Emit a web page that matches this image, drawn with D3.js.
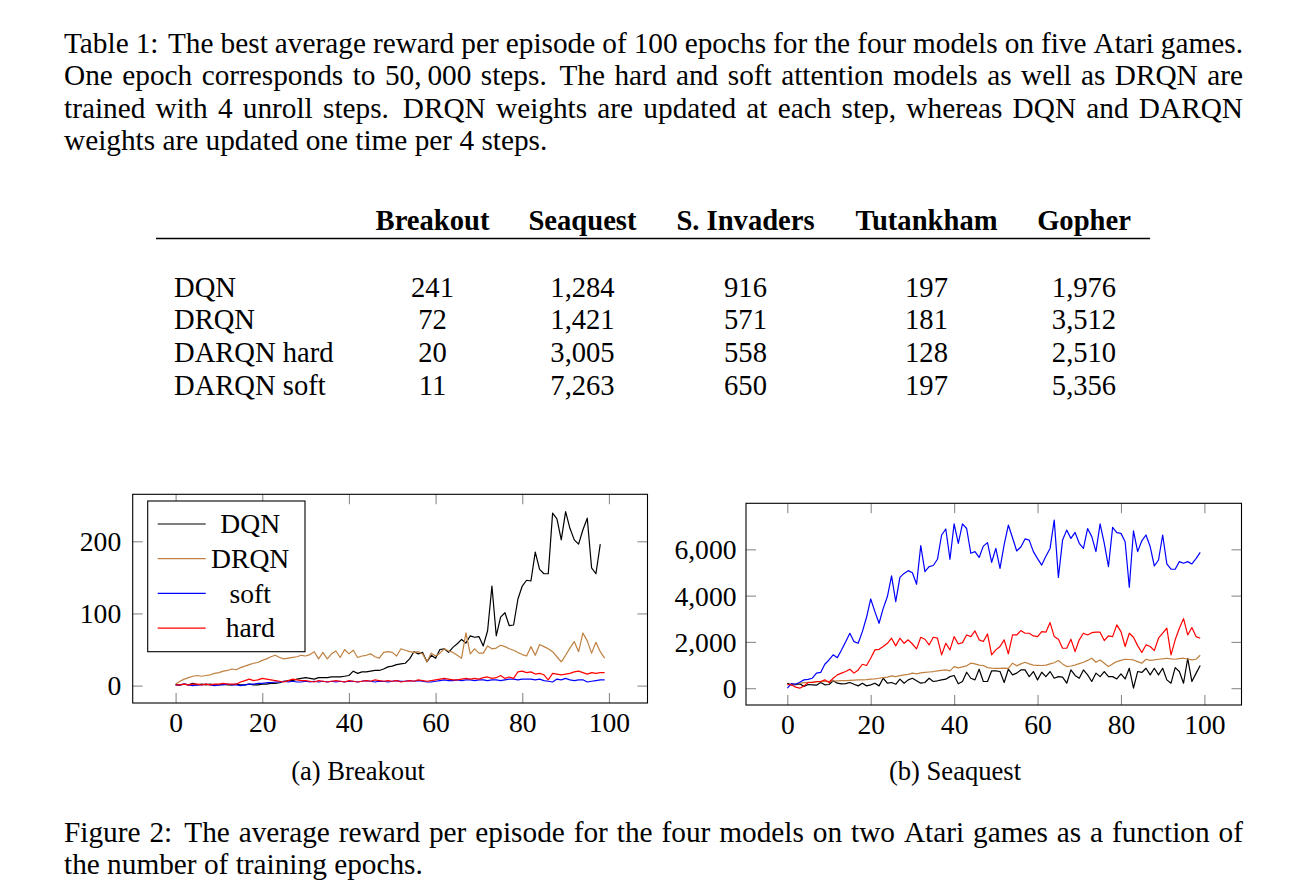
<!DOCTYPE html>
<html><head><meta charset="utf-8">
<script src="https://cdn.jsdelivr.net/npm/d3@7"></script>
<style>
body{margin:0;background:#fff}
svg text{font-family:"Liberation Serif","Times New Roman",Times,serif;fill:#000}
</style></head>
<body><svg id="fig" width="1310" height="892"></svg>
<script>
// ---------- text ----------
const tableCaption = [
  "Table 1: The best average reward per episode of 100 epochs for the four models on five Atari games.",
  "One epoch corresponds to 50,\u2009000 steps. The hard and soft attention models as well as DRQN are",
  "trained with 4 unroll steps. DRQN weights are updated at each step, whereas DQN and DARQN",
  "weights are updated one time per 4 steps."
];
const figureCaption = [
  "Figure 2: The average reward per episode for the four models on two Atari games as a function of",
  "the number of training epochs."
];
const subCaptions = ["(a) Breakout", "(b) Seaquest"];

// ---------- table data ----------
const tableGames = ["Breakout", "Seaquest", "S. Invaders", "Tutankham", "Gopher"];
const tableModels = ["DQN", "DRQN", "DARQN hard", "DARQN soft"];
const bestDQN = [241, 1284, 916, 197, 1976];
const bestDRQN = [72, 1421, 571, 181, 3512];
const bestHard = [20, 3005, 558, 128, 2510];
const bestSoft = [11, 7263, 650, 197, 5356];

// ---------- chart data ----------
const seriesNames = ["DQN", "DRQN", "soft", "hard"];
const seriesColors = ["#000000", "#bf8040", "#0000ff", "#ff0000"];
const xTicks = [0, 20, 40, 60, 80, 100];
const breakoutYTicks = [0, 100, 200];
const seaquestYTicks = [0, 2000, 4000, 6000];

const breakoutDQN = [1,1,2,1,3,1,2,1,2,1, 1,2,1,1,2,1,1,2,1,1, 2,2,3,3,4,6,7,7,9,10,
  11,10,9,11,11,11,12,12,12,13, 14,20,17,19,19,20,21,21,23,26, 27,29,30,31,37,47,44,46,33,42,
  38,50,51,46,53,58,64,59,69,67, 68,55,76,138,69,95,101,83,84,120, 138,146,145,185,161,155,155,239,231,202,
  241,218,202,196,216,232,163,155,196];
const breakoutDRQN = [2,6,9,11,13,14,13,14,15,17, 18,20,21,23,22,25,27,29,31,32, 35,37,40,42,39,37,38,39,40,42,
  41,43,47,37,46,37,44,48,39,50, 44,49,39,41,42,44,40,38,46,47, 46,41,51,49,47,46,47,44,33,45,
  41,45,51,48,46,42,38,73,44,51, 45,45,55,51,52,56,54,51,49,46, 43,41,54,42,57,54,51,47,40,33,
  42,52,61,47,73,62,45,60,47,38];
const breakoutSoft = [1,1,2,1,0,1,1,2,1,0, 1,1,2,1,1,0,1,2,2,3, 3,4,4,5,5,6,5,6,5,5,
  6,5,6,5,6,5,6,5,6,5, 6,6,5,6,7,6,5,6,6,5, 6,7,6,6,7,6,7,6,5,5, 6,7,8,7,7,8,7,8,8,7,
  8,8,7,8,8,7,8,9,9,8, 9,9,9,8,9,7,6,5,9,8, 10,8,7,8,8,5,6,7,8,8];
const breakoutHard = [1,1,2,1,2,2,1,2,1,2, 2,3,2,2,2,5,7,9,7,8, 10,9,8,7,6,5,7,9,8,7,
  7,6,5,7,6,5,6,7,6,5, 7,6,5,6,7,6,8,7,6,7, 6,7,5,6,7,6,8,7,6,7, 8,9,10,9,8,8,9,10,9,10,
  9,11,12,10,11,14,10,12,10,19, 20,18,19,16,17,15,8,17,16,15, 16,17,19,20,18,16,18,17,18,18];

const seaquestDQN = [215,145,150,190,70,160,145,130,245,145, 160,320,215,190,200,245,170,100,215,100,
  145,215,100,430,215,245,170,390,215,360, 430,320,215,245,430,290,320,360,390,500,
  550,190,290,690,430,360,820,290,290,750, 750,720,245,820,575,650,790,790,500,720,
  360,690,500,720,430,500,475,215,790,550, 430,790,575,290,650,500,720,500,500,400,
  620,400,860,0,720,680,860,575,860,575, 860,360,215,890,720,215,1284,290,640,980];
const seaquestDRQN = [145,170,190,210,240,250,260,270,280,290, 300,310,320,330,330,340,350,360,360,370,
  390,400,430,460,480,530,500,540,575,600, 650,620,660,680,700,720,750,770,790,750,
  935,880,920,965,1080,1050,1000,980,890,870, 860,860,870,860,1080,965,1050,1120,1050,1000,
  990,980,1000,1050,1100,1195,1050,935,960,1000, 1060,1120,1200,1295,1120,1220,1080,935,1050,1150,
  1200,1250,1240,1220,1150,1080,1250,1200,1220,1250, 1270,1295,1270,1250,1280,1295,1260,1220,1250,1421];
const seaquestSoft = [0,200,170,260,360,380,430,650,680,1035, 1220,1440,1320,1650,2010,2370,2010,1940,2445,3065,
  3855,3310,2805,3450,3960,4850,3740,4790,4960,5080, 4990,4490,6160,5040,5250,5300,5570,6620,6880,5570,
  7100,6260,7100,6900,5830,5900,5650,6140,6290,5440, 6040,5180,6200,7050,6500,5930,6100,6450,6400,5900,
  5600,5320,5700,6040,7263,4790,6400,6830,6470,6730, 6260,6040,6900,6550,5900,7100,6260,5250,6950,6720,
  6690,6330,4360,6800,5900,6370,6620,6120,5280,5540, 6620,5370,5140,5140,5470,5400,5470,5370,5600,5870];
const seaquestHard = [170,145,45,0,100,245,245,290,290,360, 245,430,575,650,720,820,650,790,1035,980,
  1295,1655,1680,1800,1940,2160,1830,2160,1940,2090, 1910,1700,2200,2115,1870,2200,2160,1440,1940,1655,
  2230,1910,1970,2300,2230,2475,2090,2015,2345,1440, 1655,1800,2090,1480,2300,2300,2490,2375,2375,2260,
  2230,2445,2420,2835,2230,2115,1725,1725,2115,1580, 2090,2375,2300,2400,2420,2420,2060,2260,2230,2735,
  2445,1800,2375,2200,1840,1540,1870,1800,1625,2160, 2375,2590,1440,2090,2590,3005,2300,2620,2230,2160];

const svg = d3.select("#fig");
const FONT = '"Liberation Serif","Times New Roman",Times,serif';

// ---------- justified paragraph lines ----------
function textLine(str, x0, x1, y, size, justify) {
  const words = str.split(" ");
  const t = svg.append("text").attr("y", y).style("font-size", size + "px");
  const spans = words.map(w => t.append("tspan").text(w));
  const widths = spans.map(s => s.node().getComputedTextLength());
  const weights = words.slice(0, -1).map(w => /[.:]$/.test(w) ? 1.35 : 1);
  const wsum = d3.sum(weights);
  let gapUnit = 0.25 * size;
  if (justify) gapUnit = (x1 - x0 - d3.sum(widths)) / wsum;
  let x = x0;
  spans.forEach((s, i) => {
    s.attr("x", x);
    x += widths[i] + (i < weights.length ? weights[i] * gapUnit : 0);
  });
}
const capSize = 29.3, capLeft = 64, capRight = 1243;
tableCaption.forEach((l, i) => textLine(l, capLeft, capRight, 52.5 + i * 32.6, capSize, i < tableCaption.length - 1));
figureCaption.forEach((l, i) => textLine(l, capLeft, capRight, 841.5 + i * 32.6, capSize, i < figureCaption.length - 1));

// ---------- table ----------
const colX = d3.scalePoint().domain(tableGames).range([432.5, 1084]);
const colCenters = [432.5, 582.5, 745.5, 926.5, 1084];
const tableSize = 28.6;
const th = svg.append("g");
tableGames.forEach((g, i) => th.append("text").attr("x", colCenters[i]).attr("y", 230)
  .attr("text-anchor", "middle").style("font-size", tableSize + "px").style("font-weight", "bold").text(g));
svg.append("line").attr("x1", 156).attr("x2", 1150).attr("y1", 238.5).attr("y2", 238.5)
  .attr("stroke", "#000").attr("stroke-width", 1.3);
const tableRows = [bestDQN, bestDRQN, bestHard, bestSoft];
const fmt = d3.format(",");
tableRows.forEach((row, r) => {
  const y = 296.5 + r * 32.7;
  svg.append("text").attr("x", 174).attr("y", y).style("font-size", tableSize + "px").text(tableModels[r]);
  row.forEach((v, c) => svg.append("text").attr("x", colCenters[c]).attr("y", y)
    .attr("text-anchor", "middle").style("font-size", tableSize + "px").text(fmt(v)));
});

// ---------- charts ----------
const chartFont = 27.6;
function drawChart(box, data, yTicks, yFmt, labelGap, legend) {
  const all = data.flat();
  const ext = d3.extent(all);
  const pad = 0.1 * (ext[1] - ext[0]);
  const x = d3.scaleLinear().domain([-9.9, 108.9]).range([box.l, box.r]);
  const y = d3.scaleLinear().domain([ext[0] - pad, ext[1] + pad]).range([box.b, box.t]);
  const g = svg.append("g");
  const tickLen = 10, tickCol = "#8c8c8c";
  const styleAxis = sel => {
    sel.select(".domain").remove();
    sel.selectAll(".tick line").attr("stroke", tickCol).attr("stroke-width", 1.1);
    sel.selectAll(".tick text").style("font-family", FONT).style("font-size", chartFont + "px").attr("fill", "#000");
  };
  // bottom
  g.append("g").attr("transform", `translate(0,${box.b})`)
    .call(d3.axisBottom(x).tickValues(xTicks).tickSize(-tickLen).tickFormat(d3.format("d")))
    .call(styleAxis)
    .call(s => s.selectAll(".tick text").attr("dy", null).attr("y", 29));
  g.append("g").attr("transform", `translate(0,${box.t})`)
    .call(d3.axisTop(x).tickValues(xTicks).tickSize(-tickLen).tickFormat(""))
    .call(styleAxis);
  g.append("g").attr("transform", `translate(${box.l},0)`)
    .call(d3.axisLeft(y).tickValues(yTicks).tickSize(-tickLen).tickFormat(yFmt))
    .call(styleAxis)
    .call(s => s.selectAll(".tick text").attr("x", -labelGap).attr("dy", "0.34em"));
  g.append("g").attr("transform", `translate(${box.r},0)`)
    .call(d3.axisRight(y).tickValues(yTicks).tickSize(-tickLen).tickFormat(""))
    .call(styleAxis);
  // lines
  const line = d3.line().x((d, i) => x(i)).y(d => y(d));
  data.forEach((s, k) => g.append("path").datum(s).attr("d", line)
    .attr("fill", "none").attr("stroke", seriesColors[k]).attr("stroke-width", 1.2)
    .attr("stroke-linejoin", "round"));
  // frame
  g.append("rect").attr("x", box.l).attr("y", box.t).attr("width", box.r - box.l).attr("height", box.b - box.t)
    .attr("fill", "none").attr("stroke", "#000").attr("stroke-width", 1.1);
  if (legend) {
    const lg = g.append("g").attr("transform", `translate(${box.l + 15},${box.t + 6.7})`);
    lg.append("rect").attr("width", 157.3).attr("height", 150.7).attr("fill", "#fff")
      .attr("stroke", "#000").attr("stroke-width", 1.1);
    seriesNames.forEach((n, i) => {
      const yy = 23 + i * 34.7;
      lg.append("line").attr("x1", 10).attr("x2", 58).attr("y1", yy).attr("y2", yy)
        .attr("stroke", seriesColors[i]).attr("stroke-width", 1.2);
      lg.append("text").attr("x", 102.5).attr("y", yy).attr("dy", "0.34em").attr("text-anchor", "middle")
        .style("font-size", chartFont + "px").text(n);
    });
  }
}
drawChart({l: 132.7, r: 647.5, t: 494.3, b: 703},
  [breakoutDQN, breakoutDRQN, breakoutSoft, breakoutHard], breakoutYTicks, d3.format("d"), 11.5, true);
drawChart({l: 746, r: 1241.5, t: 503.3, b: 705},
  [seaquestDQN, seaquestDRQN, seaquestSoft, seaquestHard], seaquestYTicks, d3.format(",d"), 9.5, false);

// subcaptions
const subX = [358, 955];
subCaptions.forEach((s, i) => svg.append("text").attr("x", subX[i]).attr("y", 779.5)
  .attr("text-anchor", "middle").style("font-size", "26.6px").text(s));
</script>
</body></html>
